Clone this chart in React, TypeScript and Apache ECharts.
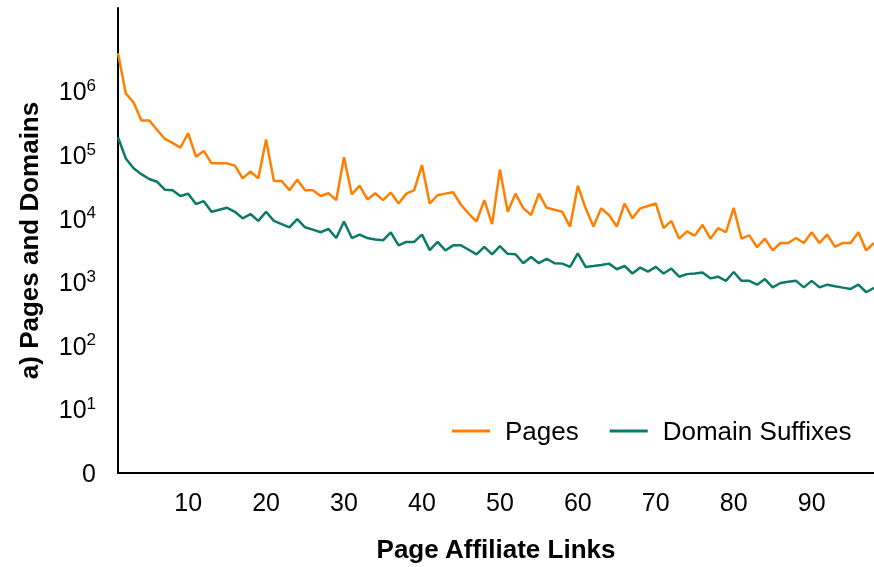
import React, { useEffect, useRef } from "react";
import * as echarts from "echarts";

const linkCounts: number[] = Array.from({ length: 98 }, (_, i) => i + 1);

const pages: number[] = [
  4.0e6, 9.3e5, 6.7e5, 3.5e5, 3.5e5, 2.5e5, 1.8e5, 1.55e5, 1.3e5, 2.2e5,
  9.4e4, 1.16e5, 7.4e4, 7.4e4, 7.4e4, 6.8e4, 4.3e4, 5.5e4, 4.3e4, 1.76e5,
  3.9e4, 3.9e4, 2.8e4, 4.1e4, 2.8e4, 2.8e4, 2.27e4, 2.5e4, 1.95e4, 9.2e4,
  2.4e4, 3.3e4, 2.0e4, 2.5e4, 1.95e4, 2.57e4, 1.73e4, 2.47e4, 2.8e4, 6.95e4,
  1.73e4, 2.33e4, 2.47e4, 2.6e4, 1.65e4, 1.2e4, 9.0e3, 1.95e4, 8.2e3, 5.9e4,
  1.28e4, 2.47e4, 1.46e4, 1.14e4, 2.47e4, 1.48e4, 1.38e4, 1.28e4, 7.5e3, 3.3e4,
  1.45e4, 7.5e3, 1.45e4, 1.14e4, 7.5e3, 1.73e4, 1.01e4, 1.45e4, 1.58e4, 1.73e4,
  7.1e3, 9.2e3, 4.84e3, 6.3e3, 5.4e3, 7.98e3, 4.84e3, 7.08e3, 6.1e3, 1.48e4,
  4.84e3, 5.45e3, 3.55e3, 4.84e3, 3.16e3, 4.14e3, 4.14e3, 4.95e3, 4.14e3, 6.1e3,
  4.14e3, 5.6e3, 3.6e3, 4.14e3, 4.14e3, 6.1e3, 3.16e3, 4.14e3,
];

const domainSuffixes: number[] = [
  1.9e5, 8.8e4, 6.2e4, 5.0e4, 4.2e4, 3.8e4, 2.85e4, 2.8e4, 2.27e4, 2.46e4,
  1.69e4, 1.88e4, 1.28e4, 1.38e4, 1.48e4, 1.28e4, 1.01e4, 1.18e4, 9.2e3, 1.28e4,
  9.2e3, 8.2e3, 7.3e3, 9.8e3, 7.3e3, 6.7e3, 6.1e3, 6.9e3, 4.95e3, 9.0e3,
  4.95e3, 5.6e3, 4.95e3, 4.7e3, 4.56e3, 6.1e3, 3.8e3, 4.3e3, 4.3e3, 5.6e3,
  3.2e3, 4.3e3, 3.16e3, 3.8e3, 3.8e3, 3.24e3, 2.74e3, 3.6e3, 2.74e3, 3.7e3,
  2.8e3, 2.75e3, 1.99e3, 2.5e3, 1.99e3, 2.34e3, 1.99e3, 1.96e3, 1.74e3, 2.84e3,
  1.74e3, 1.8e3, 1.87e3, 1.96e3, 1.6e3, 1.8e3, 1.37e3, 1.7e3, 1.47e3, 1.74e3,
  1.37e3, 1.64e3, 1.22e3, 1.34e3, 1.37e3, 1.42e3, 1.15e3, 1.22e3, 1.05e3, 1.45e3,
  1.05e3, 1.05e3, 915, 1.12e3, 830, 972, 1.02e3, 1.05e3, 830, 1.05e3,
  830, 915, 866, 822, 785, 915, 695, 813,
];

const seriesNames = ["Pages", "Domain Suffixes"];
const colors = ["#FF8000", "#0B7A69"];
const xTitle = "Page Affiliate Links";
const yTitle = "a) Pages and Domains";

const FONT = "'Liberation Sans', Arial, Helvetica, sans-serif";

export default function App() {
  const ref = useRef<HTMLDivElement>(null);
  useEffect(() => {
    if (!ref.current) return;
    const chart = echarts.init(ref.current, null, { renderer: "svg" });
    chart.setOption({
      animation: false,
      textStyle: { fontFamily: FONT, color: "#000" },
      grid: { left: 118, right: 0, top: 8, bottom: 91, containLabel: false },
      legend: {
        data: seriesNames,
        left: 452,
        top: 418,
        padding: 0,
        icon: "rect",
        itemWidth: 38,
        itemHeight: 3,
        itemGap: 31,
        textStyle: { fontSize: 26, fontFamily: FONT, color: "#000", padding: [0, 0, 0, 10] },
      },
      xAxis: {
        type: "category",
        data: linkCounts,
        boundaryGap: false,
        name: xTitle,
        nameLocation: "middle",
        nameGap: 63,
        nameTextStyle: { fontSize: 26, fontWeight: "bold", fontFamily: FONT, color: "#000" },
        axisLine: { lineStyle: { color: "#000", width: 2 } },
        axisTick: { show: false },
        axisLabel: {
          fontSize: 25,
          fontFamily: FONT,
          color: "#000",
          margin: 16,
          interval: (_idx: number, val: string) => Number(val) % 10 === 0,
        },
        splitLine: { show: false },
      },
      yAxis: {
        type: "log",
        logBase: 10,
        min: 1,
        max: 2.05e7,
        splitNumber: 8,
        name: yTitle,
        nameLocation: "middle",
        nameGap: 76,
        nameTextStyle: { fontSize: 26, fontWeight: "bold", fontFamily: FONT, color: "#000" },
        axisLine: { show: true, lineStyle: { color: "#000", width: 2 } },
        axisTick: { show: false },
        splitLine: { show: false },
        axisLabel: {
          margin: 22,
          color: "#000",
          formatter: (v: number) => {
            const l = Math.log10(v);
            const e = Math.round(l);
            if (Math.abs(l - e) > 0.01 || e > 6) return "";
            if (e === 0) return "{b|0}";
            return "{b|10}{s|" + e + "}";
          },
          rich: {
            b: { fontSize: 25, fontFamily: FONT, color: "#000" },
            s: { fontSize: 17, fontFamily: FONT, color: "#000", padding: [0, 0, 12, 0] },
          },
        },
      },
      series: [
        {
          name: seriesNames[0],
          type: "line",
          data: pages,
          showSymbol: false,
          symbol: "none",
          lineStyle: { color: colors[0], width: 2.5 },
          itemStyle: { color: colors[0] },
        },
        {
          name: seriesNames[1],
          type: "line",
          data: domainSuffixes,
          showSymbol: false,
          symbol: "none",
          lineStyle: { color: colors[1], width: 2.5 },
          itemStyle: { color: colors[1] },
        },
      ],
    });
    return () => chart.dispose();
  }, []);
  return (
    <div
      ref={ref}
      style={{ position: "fixed", left: 0, top: 0, width: 874, height: 567 }}
    />
  );
}
